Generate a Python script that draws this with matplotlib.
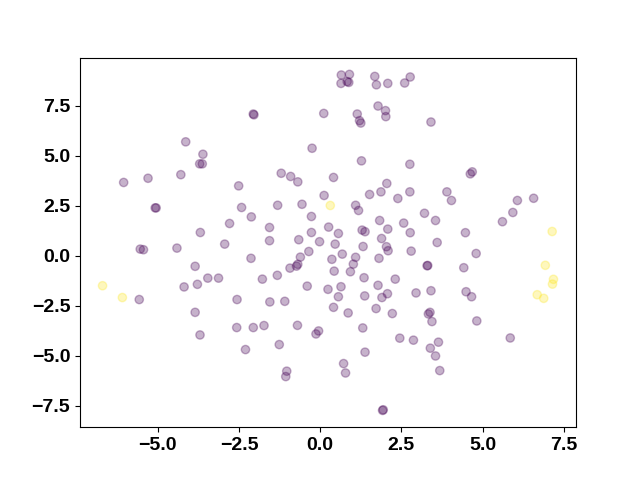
import matplotlib.pyplot as plt
from matplotlib.ticker import MultipleLocator

plt.rcParams['font.family'] = ['Liberation Sans', 'DejaVu Sans']

# Point coordinates (cluster 0 = purple, 1 = yellow)
x_main = [-2.06, -2.04, -4.14, -3.61, -3.71, -3.63, -5.30, -4.29, -6.05, -2.51,
          0.65, 0.90, 0.64, 0.83, 0.88, 1.68, 1.73, 2.08, 2.60, 2.77,
          0.11, 1.14, 1.21, 1.25, 1.78, 2.01, 2.02, -0.25, 1.27, 2.76,
          -1.20, -0.91, -0.69, 0.41, 2.05, 3.41, 4.68, 4.62, -5.08, -5.05,
          -2.42, -2.12, -2.79, -3.69, -2.94, -5.54, -5.44, -4.41, -2.13, -3.85,
          -3.46, -3.13, -3.78, -4.19, -5.57, -2.56, -3.85, -3.70, -2.57, -2.06,
          -2.30, -1.55, -1.09, 0.41, 0.86, 1.72, 2.22, -1.73, -0.70, -0.05,
          -0.13, 1.31, 2.45, 2.87, -1.26, 1.38, -1.03, -1.06, 0.72, 0.78,
          1.92, 1.94, 3.38, 3.33, 3.44, 4.82, 3.64, 3.39, 3.55, 3.68,
          5.85, 3.90, 4.04, 6.07, 6.57, 3.21, 3.55, 5.93, 5.61, 2.77,
          4.47, 3.60, 2.80, 4.80, 3.29, 3.31, 4.42, 2.95, 3.41, 4.49,
          4.66, 0.12, 1.52, 1.87, 2.76, 2.39, -1.31, -0.56, 1.09, 1.18,
          -0.27, 1.83, 2.57, -1.56, 0.26, 0.56, 1.29, 1.38, 2.08, -0.27,
          -1.56, -0.66, -0.02, 0.46, 1.89, 1.32, 2.04, 2.09, -0.35, -0.61,
          -0.69, -0.73, 0.68, 0.36, 1.09, 1.81, 1.02, -0.93, 0.93, 0.43,
          -1.78, -1.32, 2.31, 1.35, -0.40, 0.24, 0.64, 1.78, 2.07, 1.90,
          0.56, 1.37]
y_main = [7.08, 7.04, 5.69, 5.07, 4.59, 4.59, 3.87, 4.05, 3.66, 3.49,
          9.03, 9.06, 8.61, 8.70, 8.66, 8.96, 8.54, 8.61, 8.63, 8.93,
          7.11, 7.08, 6.75, 6.63, 7.48, 7.25, 6.95, 5.37, 4.74, 4.57,
          4.12, 3.96, 3.69, 3.91, 3.61, 6.68, 4.19, 4.09, 2.39, 2.39,
          2.41, 1.94, 1.61, 1.16, 0.58, 0.33, 0.30, 0.38, -0.13, -0.53,
          -1.12, -1.12, -1.43, -1.56, -2.19, -2.19, -2.83, -3.96, -3.59, -3.59,
          -4.69, -2.31, -2.28, -2.58, -2.86, -2.64, -2.89, -3.49, -3.48, -3.76,
          -3.91, -3.61, -4.12, -4.22, -4.44, -4.82, -5.77, -6.04, -5.39, -5.86,
          -7.73, -7.70, -2.83, -2.91, -3.29, -3.26, -4.32, -4.62, -5.01, -5.74,
          -4.11, 3.19, 2.76, 2.76, 2.87, 2.12, 1.76, 2.16, 1.70, 1.15,
          1.15, 0.66, 0.23, 0.11, -0.50, -0.49, -0.60, -1.86, -1.75, -1.80,
          -2.05, 3.01, 3.06, 3.19, 3.19, 2.86, 2.52, 2.57, 2.52, 2.26,
          1.96, 1.76, 1.63, 1.41, 1.43, 1.11, 1.28, 1.20, 1.33, 1.16,
          0.75, 0.80, 0.70, 0.58, 0.86, 0.46, 0.45, 0.25, 0.21, -0.07,
          -0.43, -0.52, 0.08, -0.18, -0.08, -0.13, -0.42, -0.62, -0.80, -0.77,
          -1.17, -0.98, -1.17, -1.10, -1.52, -1.68, -1.55, -1.48, -1.90, -2.09,
          -2.05, -2.01]

x_out = [-6.70, -6.09, 0.31, 7.14, 6.93, 7.18, 7.15, 6.68, 6.88]
y_out = [-1.50, -2.09, 2.51, 1.21, -0.48, -1.18, -1.42, -1.95, -2.13]

x = x_main + x_out
y = y_main + y_out
labels = [0] * len(x_main) + [1] * len(x_out)

plt.figure(figsize=(6.4, 4.8), dpi=100)
plt.scatter(x, y, c=labels, cmap='viridis', alpha=0.3)
ax = plt.gca()
ax.xaxis.set_major_locator(MultipleLocator(2.5))
ax.yaxis.set_major_locator(MultipleLocator(2.5))
plt.xticks(fontsize=14, fontweight='bold')
plt.yticks(fontsize=14, fontweight='bold')
plt.savefig('out.png')
